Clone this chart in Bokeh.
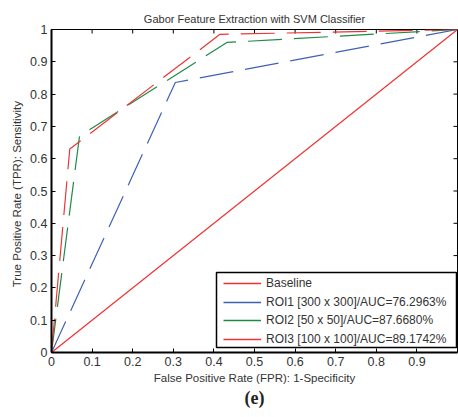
import math
from bokeh.plotting import figure
from bokeh.models import (Range1d, FixedTicker, LinearAxis, Legend, LegendItem, Title,
                          BoxAnnotation)
from bokeh.embed import file_html
from bokeh.resources import INLINE

title_text = "Gabor Feature Extraction with SVM Classifier"
x_label = "False Positive Rate (FPR): 1-Specificity"
y_label = "True  Positive Rate (TPR):  Sensitivity"
panel_label = "(e)"

baseline_fpr = [0.0, 1.0]
baseline_tpr = [0.0, 1.0]
roi1_fpr = [0.0, 0.305, 1.0]
roi1_tpr = [0.0, 0.836, 1.0]
roi2_fpr = [0.0, 0.069, 0.432, 1.0]
roi2_tpr = [0.0, 0.670, 0.960, 1.0]
roi3_fpr = [0.0, 0.045, 0.415, 1.0]
roi3_tpr = [0.0, 0.630, 0.985, 1.0]

names = ["Baseline", "ROI1 [300 x 300]/AUC=76.2963%",
         "ROI2 [50 x 50]/AUC=87.6680%", "ROI3 [100 x 100]/AUC=89.1742%"]

x_ticks = [0, 0.1, 0.2, 0.3, 0.4, 0.5, 0.6, 0.7, 0.8, 0.9]
y_ticks = [0, 0.1, 0.2, 0.3, 0.4, 0.5, 0.6, 0.7, 0.8, 0.9, 1.0]

FONT = "Liberation Sans"
TXT = "#333333"

p = figure(width=458, height=417, output_backend="svg", toolbar_location=None,
           x_range=Range1d(0, 1), y_range=Range1d(0, 1),
           x_axis_location=None, y_axis_location=None,
           min_border_left=51, min_border_right=1, min_border_top=29, min_border_bottom=65)
p.grid.visible = False
p.outline_line_color = "black"
p.outline_line_width = 1
p.background_fill_color = "white"
p.border_fill_color = "white"

p.title.text = title_text
p.title.align = "center"
p.title.text_font = FONT
p.title.text_font_size = "11px"
p.title.text_font_style = "normal"
p.title.text_color = TXT
p.title.offset = 0
p.title.standoff = 10

def style(ax):
    ax.major_tick_in = 4
    ax.major_tick_out = 0
    ax.minor_tick_in = 0
    ax.minor_tick_out = 0
    ax.axis_line_color = "black"
    ax.axis_line_width = 2
    ax.major_tick_line_color = "black"
    ax.major_label_text_font = FONT
    ax.major_label_text_color = TXT
    ax.major_label_text_font_size = "12.5px"
    ax.axis_label_text_font = FONT
    ax.axis_label_text_font_style = "normal"
    ax.axis_label_text_color = TXT
    ax.axis_label_text_font_size = "11.5px"

xb = LinearAxis(ticker=FixedTicker(ticks=x_ticks), axis_label=x_label)
style(xb)
xb.major_label_standoff = 4
xb.axis_label_standoff = 3
p.add_layout(xb, "below")

yl = LinearAxis(ticker=FixedTicker(ticks=y_ticks), axis_label=y_label)
style(yl)
yl.major_label_standoff = 4
yl.axis_label_standoff = 4
p.add_layout(yl, "left")

# inward tick marks on the top and right frame edges (half clipped by frame)
p.scatter(x_ticks, [1.0] * len(x_ticks), marker="dash", angle=math.pi / 2,
          size=8, line_color="black", line_width=1)
p.scatter([1.0] * len(y_ticks), y_ticks, marker="dash", angle=0,
          size=8, line_color="black", line_width=1)

RED = "#f03232"
RED2 = "#ee3434"
BLUE = "#4060b8"
GREEN = "#1f8a48"
DASH = "34 12"
colors = [RED, BLUE, GREEN, RED2]

p.line(baseline_fpr, baseline_tpr, line_color=RED, line_width=1.2)
p.line(roi1_fpr, roi1_tpr, line_color=BLUE, line_width=1.2, line_dash=DASH)
p.line(roi2_fpr, roi2_tpr, line_color=GREEN, line_width=1.2, line_dash=DASH)
p.line(roi3_fpr, roi3_tpr, line_color=RED2, line_width=1.2, line_dash=DASH)

# legend frame (screen px relative to the plot frame)
box = BoxAnnotation(left=165, right=405, bottom=5, top=80,
                    left_units="screen", right_units="screen",
                    bottom_units="screen", top_units="screen",
                    fill_color="white", fill_alpha=1.0,
                    line_color="black", line_width=1.5, line_alpha=1.0)
p.add_layout(box)

# one single-entry legend per row, with a solid key line each
nan = [float("nan")]
row_bottoms = [60, 41, 23, 4]
for name, col, yb in zip(names, colors, row_bottoms):
    key = p.line(nan, nan, line_color=col, line_width=1.3)
    lg = Legend(items=[LegendItem(label=name, renderers=[key])], location=(171, yb))
    lg.border_line_alpha = 0
    lg.background_fill_alpha = 0
    lg.label_text_font = FONT
    lg.label_text_font_size = "12px"
    lg.label_text_color = TXT
    lg.glyph_width = 38
    lg.glyph_height = 16
    lg.label_height = 16
    lg.spacing = 0
    lg.padding = 1
    lg.margin = 0
    lg.label_standoff = 5
    p.add_layout(lg, "center")

sub = Title(text=panel_label, align="center", text_font="Liberation Serif",
            text_font_size="18px", text_font_style="bold", text_color="#222222",
            standoff=-2, offset=0)
p.add_layout(sub, "below")

open("out.html", "w").write(file_html(p, INLINE))
